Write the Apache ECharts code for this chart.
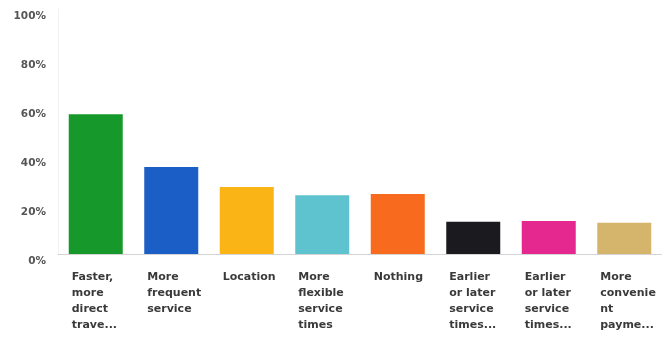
<!DOCTYPE html>
<html><head><meta charset="utf-8">
<script src="https://cdn.jsdelivr.net/npm/echarts@6/dist/echarts.min.js"></script>
<style>html,body{margin:0;padding:0;background:#fff}#c{width:662px;height:339px}</style>
</head><body><div id="c"></div>
<script>
const categories = [
  "Faster,\nmore\ndirect\ntrave...",
  "More\nfrequent\nservice",
  "Location",
  "More\nflexible\nservice\ntimes",
  "Nothing",
  "Earlier\nor later\nservice\ntimes...",
  "Earlier\nor later\nservice\ntimes...",
  "More\nconvenie\nnt\npayme..."
];
const values = [57, 35.5, 27.3, 24, 24.5, 13.2, 13.5, 12.8];
const barColors = ["#17982a", "#1b5ec6", "#fbb416", "#5ec3cf", "#f86a1e", "#1b1a1e", "#e5288f", "#d4b56b"];
const yTicks = [0, 20, 40, 60, 80, 100];

const chart = echarts.init(document.getElementById('c'));
chart.setOption({
  animation: false,
  grid: { left: 58, right: -5, top: 9, bottom: 85, containLabel: false },
  xAxis: {
    type: 'category',
    data: categories,
    axisLine: { lineStyle: { color: '#d4d4d4', width: 1 } },
    axisTick: { show: false },
    axisLabel: {
      interval: 0,
      margin: 15,
      formatter: v => v.split('\n').map(s => '{a|' + s + '}').join('\n'),
      rich: {
        a: { width: 48, align: 'left', fontFamily: 'DejaVu Sans', fontWeight: 'bold', fontSize: 11, color: '#3a3a3a', lineHeight: 16 }
      }
    }
  },
  yAxis: {
    type: 'value',
    min: yTicks[0], max: yTicks[yTicks.length - 1], interval: 20,
    axisLine: { show: true, lineStyle: { color: '#f2f2f2' } },
    axisTick: { show: false },
    splitLine: { show: false },
    axisLabel: {
      margin: 12,
      verticalAlign: 'top',
      padding: [2, 0, 0, 0],
      formatter: '{value}%',
      fontFamily: 'DejaVu Sans', fontWeight: 'bold', fontSize: 10.5, color: '#555'
    }
  },
  series: [{
    type: 'bar',
    data: values.map((v, i) => ({ value: v, itemStyle: { color: barColors[i] } })),
    barWidth: 54
  }]
});
</script></body></html>
